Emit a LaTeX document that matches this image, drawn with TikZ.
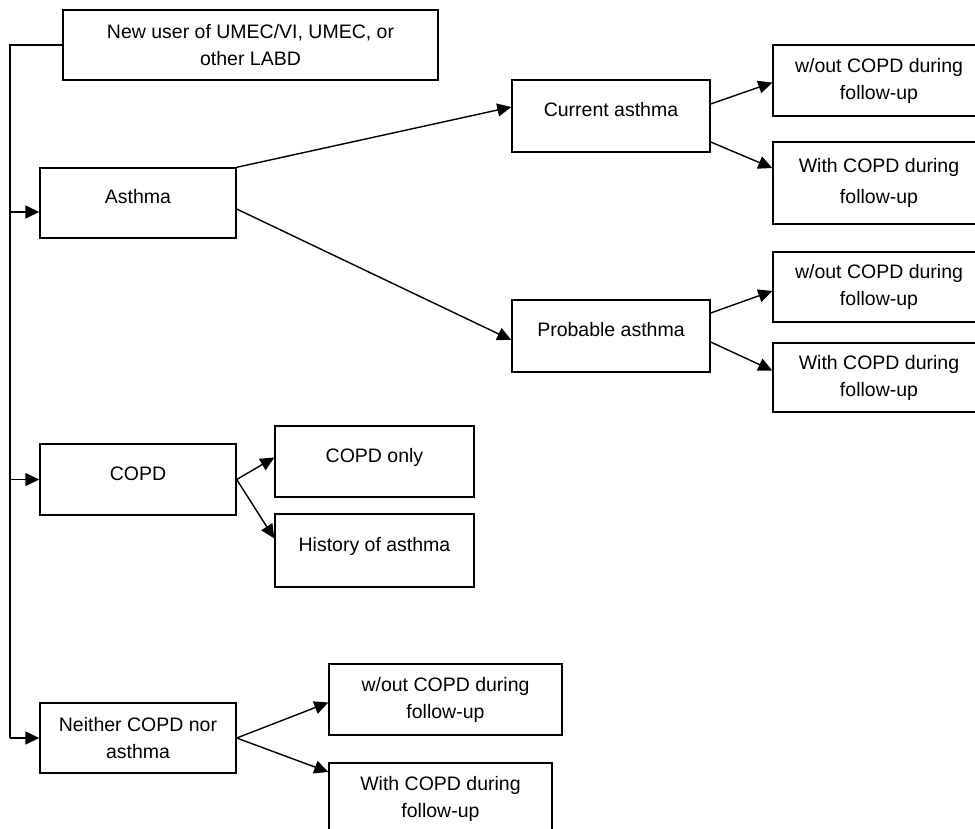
\documentclass[tikz,border=0pt]{standalone}
\usepackage{fontspec}
\setmainfont{Liberation Sans}
\usetikzlibrary{arrows.meta}
\tikzset{
	box/.style={draw, line width=1.4pt, align=center, inner sep=2pt, font=\fontsize{19.5}{27}\selectfont},
	upper/.style={text height=14pt, text depth=13pt},
	link/.style={line width=1.4pt, -{Triangle[length=14pt, width=13pt]}}
}
\begin{document}
\begin{tikzpicture}[x=1pt, y=-1pt]
	\useasboundingbox (0, 0) rectangle (975, 828);
	\clip (0, 0) rectangle (975, 828);
	\node[box, minimum width=375pt, minimum height=70pt] (user) at (250.5, 45) {New user of UMEC/VI, UMEC, or\\other LABD};
	\node[box, upper, minimum width=196pt, minimum height=70pt] (asthma) at (138, 203) {Asthma};
	\node[box, upper, minimum width=196pt, minimum height=71pt] (copd) at (138, 479.5) {COPD};
	\node[box, minimum width=196pt, minimum height=70pt] (neither) at (138, 738) {Neither COPD nor\\asthma};
	\node[box, upper, minimum width=198pt, minimum height=72pt] (current) at (611, 116) {Current asthma};
	\node[box, upper, minimum width=198pt, minimum height=72pt] (probable) at (611, 336) {Probable asthma};
	\node[box, minimum width=212pt, minimum height=71pt] (currentwo) at (879, 80.5) {w/out COPD during\\follow-up};
	\node[box, minimum width=212pt, minimum height=82pt, font=\fontsize{19.5}{31}\selectfont] (currentw) at (879, 183) {With COPD during\\follow-up};
	\node[box, minimum width=212pt, minimum height=70pt] (probablewo) at (879, 287) {w/out COPD during\\follow-up};
	\node[box, minimum width=212pt, minimum height=69pt] (probablew) at (879, 377.5) {With COPD during\\follow-up};
	\node[box, upper, minimum width=199pt, minimum height=71pt] (copdonly) at (374.5, 461.5) {COPD only};
	\node[box, upper, minimum width=199pt, minimum height=73pt] (history) at (374.5, 550.5) {History of asthma};
	\node[box, minimum width=233pt, minimum height=71pt] (neitherwo) at (445.5, 699.5) {w/out COPD during\\follow-up};
	\node[box, minimum width=223pt, minimum height=72pt] (neitherw) at (440.5, 799) {With COPD during\\follow-up};
	\coordinate (trunk) at (10, 0);
	\draw[line width=1.4pt] (user.west) -| (trunk |- neither.west);
	\draw[link] (trunk |- 0, 212) -- ([yshift=-9pt]asthma.west);
	\foreach \n in {copd, neither}{
		\draw[link] (trunk |- \n.west) -- (\n.west);
	}
	\draw[link] (asthma.north east) -- ([yshift=9pt]current.west);
	\draw[link] ([yshift=-6pt]asthma.east) -- ([yshift=-4pt]probable.west);
	\draw[link] ([yshift=12pt]current.east) -- ([yshift=-2pt]currentwo.west);
	\draw[link] ([yshift=-26pt]current.east) -- ([yshift=15pt]currentw.west);
	\draw[link] ([yshift=23pt]probable.east) -- ([yshift=-4pt]probablewo.west);
	\draw[link] ([yshift=-6pt]probable.east) -- ([yshift=7pt]probablew.west);
	\draw[link] (copd.east) -- ([yshift=4pt]copdonly.west);
	\draw[link] (copd.east) -- ([yshift=12pt]history.west);
	\draw[link] (neither.east) -- ([yshift=-3pt]neitherwo.west);
	\draw[link] (neither.east) -- ([yshift=27pt]neitherw.west);
\end{tikzpicture}
\end{document}
